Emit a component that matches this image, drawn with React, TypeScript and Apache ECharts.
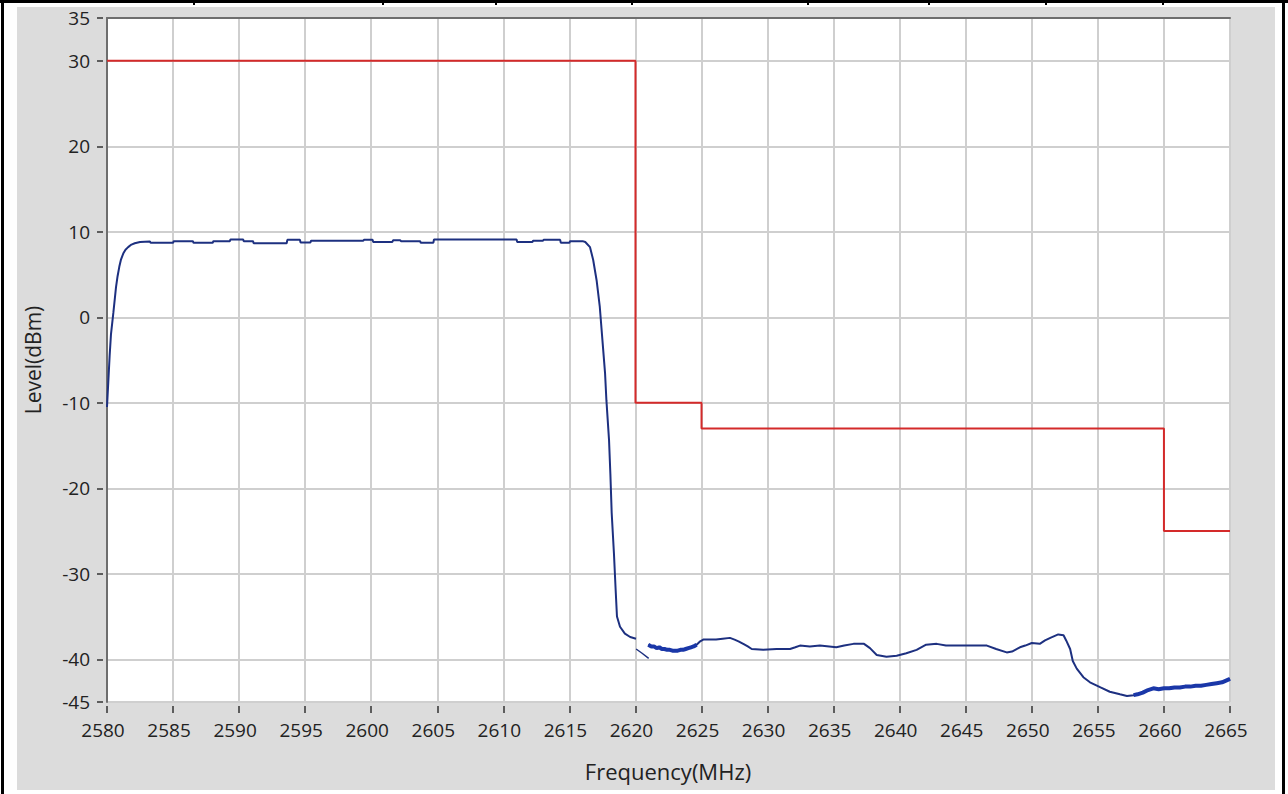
import React, { useEffect, useRef } from "react";
import * as echarts from "echarts";

// ---- data ----
const freqTicks = { min: 2580, max: 2665, step: 5 };
const levelTickValues = [35, 30, 20, 10, 0, -10, -20, -30, -40, -45];

const limitFreq = [2580, 2620, 2620, 2625, 2625, 2660, 2660, 2665];
const limitLevel = [30, 30, -10, -10, -13, -13, -25, -25];

// measured spectrum (MHz, dBm)
const traceFreq = [
  2580.0, 2580.1, 2580.2, 2580.3, 2580.48, 2580.6, 2580.68, 2580.8, 2580.93, 2581.05,
  2581.23, 2581.4, 2581.6, 2581.85, 2582.1, 2582.5, 2583.25, 2583.3, 2585.0, 2585.05,
  2586.5, 2586.55, 2588.0, 2588.05, 2589.3, 2589.35, 2590.3, 2590.35, 2591.05, 2591.1,
  2593.6, 2593.65, 2594.6, 2594.65, 2595.4, 2595.45, 2599.4, 2599.45, 2600.1, 2600.15,
  2601.6, 2601.65, 2602.2, 2602.25, 2603.7, 2603.75, 2604.7, 2604.75, 2611.0, 2611.05,
  2612.2, 2612.25, 2613.0, 2613.05, 2614.3, 2614.35, 2615.0, 2615.05, 2616.0, 2616.2,
  2616.56, 2616.8, 2617.06, 2617.3, 2617.5, 2617.7, 2617.8, 2618.0, 2618.1, 2618.2,
  2618.37, 2618.5, 2618.6, 2618.83, 2619.2, 2619.6, 2620.04, 2620.5,
  2620.97, 2621.2, 2621.4, 2621.6, 2621.8, 2622.0, 2622.2, 2622.4, 2622.6, 2622.8,
  2623.0, 2623.2, 2623.4, 2623.6, 2623.8, 2624.0, 2624.2, 2624.4, 2624.63, 2624.9,
  2625.13, 2626.1, 2626.6, 2627.15, 2627.5, 2627.8, 2628.16, 2628.5, 2628.8, 2629.67,
  2630.68, 2631.7, 2632.1, 2632.45, 2633.2, 2633.96, 2635.2, 2635.8, 2636.5, 2637.3,
  2637.75, 2638.26, 2639.0, 2639.77, 2640.5, 2641.28, 2642.0, 2642.8, 2643.5, 2644.06,
  2645.3, 2646.6, 2647.3, 2648.1, 2648.5, 2649.1, 2649.5, 2650.0, 2650.6, 2651.0,
  2651.4, 2652.0, 2652.4, 2652.6, 2652.9, 2653.1, 2653.4, 2653.9, 2654.4, 2655.2,
  2655.9, 2656.67, 2657.2, 2657.7, 2658.0, 2658.4, 2658.8, 2659.2, 2659.6, 2660.0,
  2660.4, 2660.8, 2661.2, 2661.6, 2662.0, 2662.4, 2662.8, 2663.2, 2663.6, 2664.0,
  2664.4, 2664.7, 2665.0,
];
const traceLevel: (number | string)[] = [
  -10.5, -7.5, -4.5, -2.0, 0.5, 2.3, 3.5, 4.8, 5.9, 6.7,
  7.45, 7.9, 8.2, 8.5, 8.65, 8.8, 8.85, 8.7, 8.7, 8.9,
  8.9, 8.7, 8.7, 8.9, 8.9, 9.1, 9.1, 8.9, 8.9, 8.65,
  8.65, 9.05, 9.05, 8.75, 8.75, 8.95, 8.95, 9.05, 9.05, 8.8,
  8.8, 9.0, 9.0, 8.9, 8.9, 8.7, 8.7, 9.1, 9.1, 8.8,
  8.8, 8.95, 8.95, 9.05, 9.05, 8.7, 8.7, 8.9, 8.9, 8.8,
  8.2, 6.7, 4.3, 1.2, -2.7, -6.6, -9.7, -14.4, -18.3, -22.9,
  -27.6, -31.9, -35.0, -36.2, -37.0, -37.4, -37.6, "-",
  -38.3, -38.5, -38.5, -38.7, -38.6, -38.8, -38.8, -38.9, -38.9, -39.0,
  -39.0, -39.0, -38.9, -38.9, -38.8, -38.7, -38.6, -38.5, -38.3, -37.9,
  -37.7, -37.7, -37.6, -37.5, -37.7, -37.9, -38.2, -38.5, -38.8, -38.9,
  -38.8, -38.8, -38.6, -38.4, -38.5, -38.4, -38.6, -38.4, -38.2, -38.2,
  -38.7, -39.5, -39.7, -39.6, -39.3, -38.9, -38.3, -38.2, -38.4, -38.4,
  -38.4, -38.4, -38.8, -39.2, -39.1, -38.6, -38.4, -38.1, -38.2, -37.8,
  -37.5, -37.1, -37.2, -37.8, -38.8, -40.2, -41.1, -42.1, -42.7, -43.3,
  -43.8, -44.1, -44.3, -44.2, -44.1, -43.9, -43.6, -43.4, -43.5, -43.4,
  -43.4, -43.3, -43.3, -43.2, -43.2, -43.1, -43.1, -43.0, -42.9, -42.8,
  -42.7, -42.5, -42.3,
];
// ranges where the trace is drawn as a thick noisy band
const noisyRanges = [
  [2620.9, 2624.7],
  [2657.5, 2665],
];
// short stray segment just after 2620 MHz
const strayFreq = [2620.05, 2620.5, 2621.0];
const strayLevel = [-38.8, -39.3, -39.9];

const FONT = "'Open Sans', 'Noto Sans', sans-serif";
const TEXT = "#222";

const pairs = (xs: number[], ys: (number | string)[]) => xs.map((x, i) => [x, ys[i]]);

const topDividers = [193, 382, 495, 631, 807, 928, 1045, 1162];

export default function App() {
  const ref = useRef<HTMLDivElement>(null);

  useEffect(() => {
    if (!ref.current) return;
    const chart = echarts.init(ref.current, undefined, { renderer: "svg" });
    const trace = pairs(traceFreq, traceLevel);
    const bandSeries = noisyRanges.map(([a, b]) => ({
      type: "line",
      data: trace.filter((p) => (p[0] as number) >= a && (p[0] as number) <= b && p[1] !== "-"),
      showSymbol: false,
      symbol: "none",
      lineStyle: { color: "#1a37a8", width: 4 },
      z: 5,
    }));
    chart.setOption({
      animation: false,
      backgroundColor: "transparent",
      grid: {
        left: 107,
        top: 18,
        width: 1123,
        height: 684,
        show: true,
        backgroundColor: "#ffffff",
        borderWidth: 0,
        containLabel: false,
      },
      xAxis: [
        {
          type: "value",
          position: "bottom",
          min: freqTicks.min,
          max: freqTicks.max,
          interval: freqTicks.step,
          offset: 4,
          axisLine: { show: false, onZero: false },
          axisTick: { show: true, length: 7, lineStyle: { color: "#333", width: 1.5 } },
          axisLabel: {
            fontFamily: FONT,
            fontSize: 19,
            color: TEXT,
            margin: 14,
            padding: [0, 8, 0, 0],
            formatter: (v: number) => String(v),
          },
          splitLine: { show: true, lineStyle: { color: "#cfcfcf", width: 2 } },
        },
        {
          type: "value",
          position: "top",
          min: freqTicks.min,
          max: freqTicks.max,
          axisLine: { show: true, onZero: false, lineStyle: { color: "#6e6e6e", width: 2 } },
          axisTick: { show: false },
          axisLabel: { show: false },
          splitLine: { show: false },
        },
      ],
      yAxis: [
        {
          type: "value",
          position: "left",
          min: -45,
          max: 35,
          interval: 5,
          offset: 4,
          axisLine: { show: false, onZero: false },
          axisTick: {
            show: true,
            length: 6,
            lineStyle: { color: "#333", width: 1.5 },
            customValues: levelTickValues,
          },
          axisLabel: {
            customValues: levelTickValues,
            fontFamily: FONT,
            fontSize: 19,
            color: TEXT,
            margin: 13,
          },
          splitLine: { show: true, lineStyle: { color: "#cfcfcf", width: 2 } },
        },
        {
          type: "value",
          position: "left",
          min: -45,
          max: 35,
          axisLine: { show: true, onZero: false, lineStyle: { color: "#6e6e6e", width: 2 } },
          axisTick: { show: false },
          axisLabel: { show: false },
          splitLine: { show: false },
        },
      ],
      graphic: [
        {
          type: "text",
          x: 33,
          y: 360,
          rotation: Math.PI / 2,
          style: {
            text: "Level(dBm)",
            fontFamily: FONT,
            fontSize: 21,
            fill: TEXT,
            align: "center",
            verticalAlign: "middle",
          },
        },
        {
          type: "text",
          x: 668,
          y: 771,
          style: {
            text: "Frequency(MHz)",
            fontFamily: FONT,
            fontSize: 22,
            fill: TEXT,
            align: "center",
            verticalAlign: "middle",
          },
        },
      ],
      series: [
        {
          type: "line",
          name: "Limit",
          data: pairs(limitFreq, limitLevel),
          showSymbol: false,
          symbol: "none",
          lineStyle: { color: "#d42a2a", width: 2 },
          z: 3,
        },
        {
          type: "line",
          name: "Trace",
          data: trace,
          showSymbol: false,
          symbol: "none",
          connectNulls: false,
          lineStyle: { color: "#1d3080", width: 2 },
          z: 4,
        },
        ...bandSeries,
        {
          type: "line",
          name: "Stray",
          data: pairs(strayFreq, strayLevel),
          showSymbol: false,
          symbol: "none",
          lineStyle: { color: "#1d3080", width: 1.5 },
          z: 4,
        },
      ],
    });
    return () => chart.dispose();
  }, []);

  return (
    <div
      style={{
        position: "fixed",
        left: 0,
        top: 0,
        width: 1288,
        height: 794,
        background: "#ffffff",
        overflow: "hidden",
      }}
    >
      <div style={{ position: "absolute", left: 0, top: 0, width: 1288, height: 3, background: "#000" }} />
      {topDividers.map((x) => (
        <div key={x} style={{ position: "absolute", left: x, top: 0, width: 2, height: 5, background: "#000" }} />
      ))}
      <div style={{ position: "absolute", left: 1, top: 0, width: 3, height: 794, background: "#000" }} />
      <div style={{ position: "absolute", left: 1282, top: 0, width: 3, height: 794, background: "#000" }} />
      <div style={{ position: "absolute", left: 17, top: 7, width: 1258, height: 783, background: "#dcdcdc" }} />
      <div ref={ref} style={{ position: "absolute", left: 0, top: 0, width: 1288, height: 794 }} />
    </div>
  );
}
